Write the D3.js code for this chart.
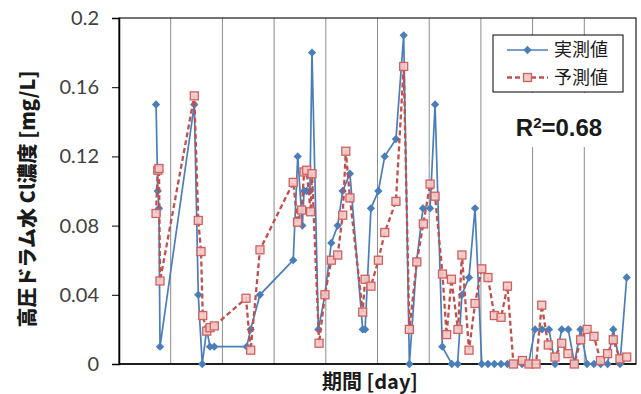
<!DOCTYPE html>
<html>
<head>
<meta charset="utf-8">
<script src="https://cdn.jsdelivr.net/npm/d3@7"></script>
<style>
  body { margin: 0; background: #fff; }
  svg { display: block; }
</style>
</head>
<body>
<div id="chart"></div>
<script>
// 実測値 (measured)
const actualDay = [21.5, 22.5, 23.2, 23.8, 43.7, 46.0, 48.3, 50.9, 52.8, 55.3, 74.1, 76.4, 81.8,
  101.1, 103.7, 106.4, 107.4, 108.9, 110.8, 112.0, 115.7, 119.5, 123.2, 126.9, 129.8, 134.0,
  141.4, 142.8, 146.2, 150.5, 154.2, 160.7, 165.2, 168.5, 172.8, 176.4, 180.5, 183.4, 187.6,
  193.1, 196.5, 199.0, 203.1, 206.6, 210.5, 214.1, 217.8, 221.7, 225.4, 229.2, 233.9, 237.6,
  241.4, 245.5, 249.5, 253.0, 256.9, 260.7, 264.3, 267.8, 271.6, 275.6, 279.5, 283.5, 286.8,
  290.7, 294.6];
const actualValue = [0.15, 0.10, 0.09, 0.01, 0.15, 0.04, 0, 0.02, 0.01, 0.01, 0.01, 0.02, 0.04,
  0.06, 0.12, 0.08, 0.10, 0.10, 0.10, 0.18, 0.02, 0.04, 0.07, 0.08, 0.10, 0.11,
  0.02, 0.02, 0.09, 0.10, 0.12, 0.13, 0.19, 0, 0.06, 0.09, 0.09, 0.15, 0.01,
  0, 0, 0.04, 0.05, 0.09, 0, 0, 0, 0, 0, 0, 0, 0,
  0.02, 0.02, 0.02, 0, 0.02, 0.02, 0, 0.02, 0, 0, 0, 0, 0.02,
  0, 0.05];

// 予測値 (predicted)
const predDay = [21.5, 22.5, 23.2, 23.8, 43.7, 46.0, 47.6, 48.6, 50.9, 52.8, 55.3, 73.7, 76.4, 81.8,
  101.1, 103.6, 106.0, 107.4, 108.9, 111.2, 112.0, 116.1, 119.5, 123.2, 126.9, 129.8, 131.6, 134.0,
  141.4, 142.8, 146.2, 150.5, 154.2, 160.7, 165.2, 168.5, 172.8, 176.6, 180.5, 183.4, 187.7,
  190.1, 192.9, 196.7, 199.0, 203.1, 206.6, 210.5, 214.1, 217.8, 221.7, 225.4, 228.9, 234.1,
  237.9, 242.0, 245.3, 249.1, 253.0, 256.9, 260.5, 264.2, 267.9, 271.6, 275.6, 279.4, 283.5,
  286.8, 290.7, 294.6];
const predValue = [0.087, 0.112, 0.113, 0.048, 0.155, 0.083, 0.065, 0.028, 0.019, 0.021, 0.022, 0.038, 0.008, 0.066,
  0.105, 0.082, 0.089, 0.111, 0.112, 0.088, 0.110, 0.012, 0.040, 0.060, 0.063, 0.086, 0.123, 0.096,
  0.030, 0.049, 0.045, 0.060, 0.076, 0.094, 0.172, 0.020, 0.059, 0.081, 0.104, 0.097, 0.052,
  0.017, 0.049, 0.020, 0.063, 0.008, 0.035, 0.055, 0.050, 0.028, 0.027, 0.045, 0.000, 0.002,
  0.000, 0.000, 0.034, 0.011, 0.004, 0.012, 0.006, 0.000, 0.014, 0.020, 0.016, 0.002, 0.006,
  0.014, 0.003, 0.004];

const yTicks = [0, 0.04, 0.08, 0.12, 0.16, 0.2];
const gridDays = [30, 60, 90, 120, 150, 180, 210, 240, 270];
const seriesNames = ["実測値", "予測値"];

const WIDTH = 641, HEIGHT = 394;
const margin = {left: 119, top: 18, right: 5, bottom: 30};
const BLUE = "#4A7EBB", RED = "#C0504D";
const SQ = 8;

const svg = d3.select("#chart").append("svg")
  .attr("width", WIDTH).attr("height", HEIGHT);

const x = d3.scaleLinear().domain([0, 300]).range([margin.left, WIDTH - margin.right]);
const y = d3.scaleLinear().domain([0, 0.2]).range([HEIGHT - margin.bottom, margin.top]);

// vertical gridlines
svg.append("g")
  .selectAll("line")
  .data(gridDays)
  .join("line")
  .attr("x1", d => x(d)).attr("x2", d => x(d))
  .attr("y1", y(0.2)).attr("y2", y(0))
  .attr("stroke", "#8c8c8c").attr("stroke-width", 1);

// plot border
svg.append("rect")
  .attr("x", x(0)).attr("y", y(0.2))
  .attr("width", x(300) - x(0)).attr("height", y(0) - y(0.2))
  .attr("fill", "none").attr("stroke", "#1a1a1a").attr("stroke-width", 1.2);

// y axis
const yAxis = svg.append("g")
  .attr("transform", `translate(${x(0)},0)`)
  .call(d3.axisLeft(y).tickValues(yTicks).tickSize(7).tickPadding(13)
    .tickFormat(d => d === 0 ? "0" : String(+d.toFixed(2))));
yAxis.select(".domain").attr("stroke", "#000").attr("stroke-width", 1.5);
yAxis.selectAll(".tick line").attr("stroke", "#000");
yAxis.selectAll("text")
  .attr("fill", "#404040")
  .style("font-family", "Lato, 'Liberation Sans', sans-serif")
  .style("font-size", "20px");

// x axis line
svg.append("line")
  .attr("x1", x(0)).attr("x2", x(300))
  .attr("y1", y(0)).attr("y2", y(0))
  .attr("stroke", "#000").attr("stroke-width", 1.5);

// series data
const actual = actualDay.map((d, i) => ({day: d, value: actualValue[i]}));
const pred = predDay.map((d, i) => ({day: d, value: predValue[i]}));

const line = d3.line().x(d => x(d.day)).y(d => y(d.value));

svg.append("path").datum(actual)
  .attr("d", line).attr("fill", "none")
  .attr("stroke", BLUE).attr("stroke-width", 1.7);

const diamond = d3.symbol().type(d3.symbolDiamond2).size(44);
svg.append("g").selectAll("path")
  .data(actual)
  .join("path")
  .attr("transform", d => `translate(${x(d.day)},${y(d.value)})`)
  .attr("d", diamond)
  .attr("fill", BLUE);

svg.append("path").datum(pred)
  .attr("d", line).attr("fill", "none")
  .attr("stroke", RED).attr("stroke-width", 2.3)
  .attr("stroke-dasharray", "5,3");

svg.append("g").selectAll("rect")
  .data(pred)
  .join("rect")
  .attr("x", d => x(d.day) - SQ / 2).attr("y", d => y(d.value) - SQ / 2)
  .attr("width", SQ).attr("height", SQ)
  .attr("fill", "#f3c9c8").attr("fill-opacity", 0.9)
  .attr("stroke", "#d0605d").attr("stroke-width", 1.3);

// legend
const legend = svg.append("g");
legend.append("rect")
  .attr("x", 493).attr("y", 35).attr("width", 130).attr("height", 57)
  .attr("fill", "#fff").attr("stroke", "#000").attr("stroke-width", 1);

const ly = [50, 77.5];
legend.append("line")
  .attr("x1", 507).attr("x2", 548).attr("y1", ly[0]).attr("y2", ly[0])
  .attr("stroke", BLUE).attr("stroke-width", 1.7);
legend.append("path")
  .attr("transform", `translate(527.5,${ly[0]})`)
  .attr("d", diamond).attr("fill", BLUE);
legend.append("line")
  .attr("x1", 507).attr("x2", 548).attr("y1", ly[1]).attr("y2", ly[1])
  .attr("stroke", RED).attr("stroke-width", 2.3).attr("stroke-dasharray", "5,3");
legend.append("rect")
  .attr("x", 527.5 - SQ / 2).attr("y", ly[1] - SQ / 2).attr("width", SQ).attr("height", SQ)
  .attr("fill", "#f3c9c8").attr("stroke", "#d0605d").attr("stroke-width", 1.3);

legend.selectAll("text.lg")
  .data(seriesNames)
  .join("text")
  .attr("class", "lg")
  .attr("x", 554).attr("y", (d, i) => ly[i])
  .attr("dy", "0.36em")
  .attr("fill", "#1a1a1a")
  .style("font-family", "'Noto Sans CJK JP', sans-serif")
  .style("font-size", "18px")
  .text(d => d);

// R^2 text box
svg.append("rect")
  .attr("x", 505).attr("y", 93).attr("width", 110).attr("height", 54)
  .attr("fill", "#fff");
const r2 = svg.append("text")
  .attr("x", 559).attr("y", 136)
  .attr("text-anchor", "middle")
  .attr("fill", "#1a1a1a")
  .style("font-family", "'Liberation Sans', Arial, sans-serif")
  .style("font-size", "24px")
  .style("font-weight", "bold");
r2.append("tspan").text("R");
r2.append("tspan").attr("dy", "-8").style("font-size", "15px").text("2");
r2.append("tspan").attr("dy", "8").text("=0.68");

// axis titles
svg.append("text")
  .attr("x", 370).attr("y", 389)
  .attr("text-anchor", "middle")
  .attr("fill", "#1a1a1a")
  .style("font-family", "'Noto Sans CJK JP', sans-serif")
  .style("font-size", "20px")
  .style("font-weight", "bold")
  .text("期間 [day]");

svg.append("text")
  .attr("transform", "translate(35,199) rotate(-90)")
  .attr("text-anchor", "middle")
  .attr("fill", "#1a1a1a")
  .style("font-family", "'Noto Sans CJK JP', sans-serif")
  .style("font-size", "20px")
  .style("font-weight", "900")
  .text("高圧ドラム水 Cl濃度 [mg/L]");
</script>
</body>
</html>
